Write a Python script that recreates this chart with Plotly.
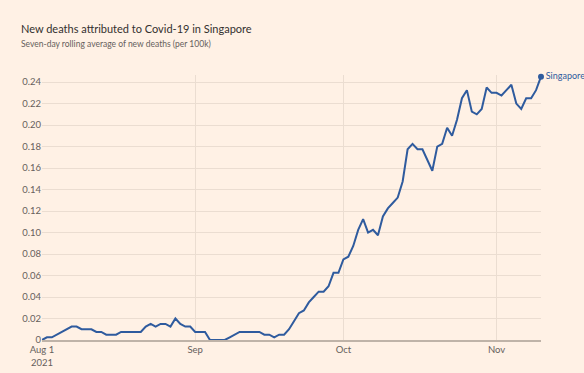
import plotly.graph_objects as go
import pandas as pd

# Seven-day rolling average of new deaths per 100k, daily from 2021-08-01
start_date = "2021-08-01"
deaths_per_100k = [
    0, 0.0025, 0.0025, 0.005, 0.0075, 0.01, 0.0125, 0.0125, 0.01, 0.01,
    0.01, 0.0075, 0.0075, 0.005, 0.005, 0.005, 0.0075, 0.0075, 0.0075, 0.0075,
    0.0075, 0.0125, 0.015, 0.0125, 0.015, 0.015, 0.0125, 0.02, 0.015, 0.0125,
    0.0125, 0.0075, 0.0075, 0.0075, 0, 0, 0, 0, 0.0025, 0.005,
    0.0075, 0.0075, 0.0075, 0.0075, 0.0075, 0.005, 0.005, 0.0025, 0.005, 0.005,
    0.01, 0.0175, 0.025, 0.0275, 0.035, 0.04, 0.045, 0.045, 0.05, 0.0625,
    0.0625, 0.075, 0.0775, 0.0875, 0.1025, 0.1125, 0.1, 0.1025, 0.0975, 0.115,
    0.1225, 0.1275, 0.1325, 0.1475, 0.1775, 0.1825, 0.1775, 0.1775, 0.1675, 0.1575,
    0.18, 0.1825, 0.1975, 0.19, 0.205, 0.225, 0.2325, 0.2125, 0.21, 0.215,
    0.235, 0.23, 0.23, 0.2275, 0.2325, 0.2375, 0.22, 0.215, 0.225, 0.225,
    0.2325, 0.245,
]
dates = pd.date_range(start_date, periods=len(deaths_per_100k), freq="D")

series_name = "Singapore"
title_text = "New deaths attributed to Covid-19 in Singapore"
subtitle_text = "Seven-day rolling average of new deaths (per 100k)"

y_tick_vals = [0, 0.02, 0.04, 0.06, 0.08, 0.10, 0.12, 0.14, 0.16, 0.18, 0.20, 0.22, 0.24]
y_tick_text = ["0", "0.02", "0.04", "0.06", "0.08", "0.10", "0.12", "0.14", "0.16",
               "0.18", "0.20", "0.22", "0.24"]
x_tick_vals = ["2021-08-01", "2021-09-01", "2021-10-01", "2021-11-01"]
x_tick_text = ["Aug 1<br>2021", "Sep", "Oct", "Nov"]

BG = "#FFF1E5"
LINE = "#2F5B9E"
GRID = "#EBDDD1"
TEXT = "#66605C"
FONT = "Lato"

fig = go.Figure()
fig.add_trace(go.Scatter(
    x=dates, y=deaths_per_100k, mode="lines",
    line=dict(color=LINE, width=2), hoverinfo="skip", showlegend=False,
))
fig.add_trace(go.Scatter(
    x=[dates[-1]], y=[deaths_per_100k[-1]], mode="markers+text",
    marker=dict(color=LINE, size=6), text=[series_name],
    textposition="middle right", textfont=dict(color=LINE, size=9, family=FONT),
    hoverinfo="skip", showlegend=False, cliponaxis=False,
))

fig.update_layout(
    width=584, height=373,
    paper_bgcolor=BG, plot_bgcolor=BG,
    margin=dict(l=42, r=43, t=75, b=33, autoexpand=False),
    font=dict(family=FONT, color=TEXT, size=9.5),
    xaxis=dict(
        type="date", range=[dates[0], dates[-1]],
        tickvals=x_tick_vals, ticktext=x_tick_text,
        showgrid=True, gridcolor=GRID, gridwidth=1,
        showline=True, linecolor="#BFB3A8", linewidth=1.5,
        ticks="", zeroline=False, tickfont=dict(size=9.5, color=TEXT),
        automargin=False,
    ),
    yaxis=dict(
        range=[0, 0.2466], tickvals=y_tick_vals, ticktext=y_tick_text,
        showgrid=True, gridcolor=GRID, gridwidth=1,
        zeroline=False, showline=False, ticks="",
        tickfont=dict(size=9.5, color=TEXT), automargin=False,
    ),
    annotations=[
        dict(text=title_text, xref="paper", yref="paper", x=(19 - 42) / 499,
             y=(340 - 28) / 265, xanchor="left", yanchor="middle", showarrow=False,
             font=dict(size=11, color="#33302E", family=FONT)),
        dict(text=subtitle_text, xref="paper", yref="paper", x=(19 - 42) / 499,
             y=(340 - 44) / 265, xanchor="left", yanchor="middle", showarrow=False,
             font=dict(size=8.5, color=TEXT, family=FONT)),
    ],
)

fig.write_html("out.html", config={"displayModeBar": False},
               post_script="document.body.style.margin='0';")
